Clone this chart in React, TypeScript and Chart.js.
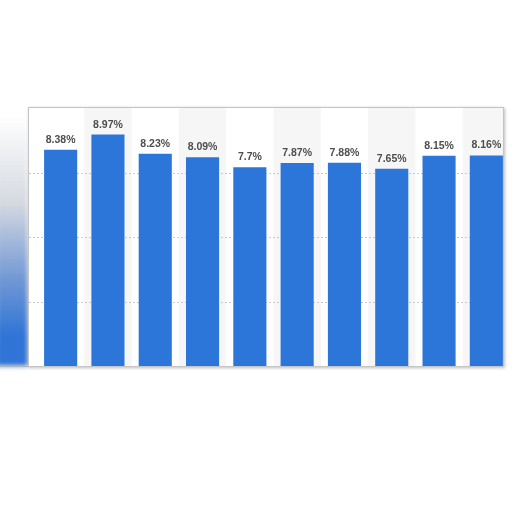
import React, { useRef, useEffect } from 'react';
import { Chart, registerables } from 'chart.js';

Chart.register(...registerables);

// Datos
const categories = ['1', '2', '3', '4', '5', '6', '7', '8', '9', '10'];
const values = [8.38, 8.97, 8.23, 8.09, 7.7, 7.87, 7.88, 7.65, 8.15, 8.16];
const valueLabels = ['8.38%', '8.97%', '8.23%', '8.09%', '7.7%', '7.87%', '7.88%', '7.65%', '8.15%', '8.16%'];
const gridValues = [2.5, 5, 7.5];

const BAR_BLUE = '#2c76d9';

// Bandas grises alternas y líneas de cuadrícula punteadas
const backgroundPlugin = {
  id: 'bandsAndGrid',
  beforeDatasetsDraw(chart: any) {
    const { ctx, chartArea, scales } = chart;
    const x = scales.x;
    const y = scales.y;
    const w = x.width / categories.length;
    ctx.save();
    ctx.fillStyle = '#f6f6f6';
    categories.forEach((_, i) => {
      if (i % 2 === 1) {
        const cx = x.getPixelForValue(i);
        ctx.fillRect(cx - w / 2, chartArea.top, w, chartArea.bottom - chartArea.top);
      }
    });
    ctx.strokeStyle = '#c9c9c9';
    ctx.lineWidth = 1;
    ctx.setLineDash([2, 2]);
    gridValues.forEach((v) => {
      const py = Math.round(y.getPixelForValue(v)) + 0.5;
      ctx.beginPath();
      ctx.moveTo(0, py);
      ctx.lineTo(chart.width, py);
      ctx.stroke();
    });
    ctx.restore();
  }
};

// Etiquetas de valor sobre cada barra
const labelsPlugin = {
  id: 'valueLabels',
  afterDatasetsDraw(chart: any) {
    const { ctx } = chart;
    const meta = chart.getDatasetMeta(0);
    ctx.save();
    ctx.font = 'bold 10.5px "Liberation Sans", Arial, sans-serif';
    ctx.fillStyle = '#4d4d4d';
    ctx.textAlign = 'center';
    ctx.textBaseline = 'alphabetic';
    meta.data.forEach((bar: any, i: number) => {
      ctx.fillText(valueLabels[i], bar.x, bar.y - 7);
    });
    ctx.restore();
  }
};

const BarChart: React.FC = () => {
  const canvasRef = useRef<HTMLCanvasElement>(null);

  useEffect(() => {
    if (!canvasRef.current) return;
    const chart = new Chart(canvasRef.current, {
      type: 'bar',
      data: {
        labels: categories,
        datasets: [{
          data: values,
          backgroundColor: BAR_BLUE,
          borderWidth: 0,
          barPercentage: 0.7,
          categoryPercentage: 1
        }]
      },
      options: {
        responsive: false,
        animation: false,
        maintainAspectRatio: false,
        layout: { padding: { left: 8, right: 0, top: 0, bottom: 0 } },
        plugins: {
          legend: { display: false },
          tooltip: { enabled: false }
        },
        scales: {
          x: { display: false },
          y: { display: false, min: 0, max: 10 }
        }
      },
      plugins: [backgroundPlugin, labelsPlugin]
    });
    return () => chart.destroy();
  }, []);

  return <canvas ref={canvasRef} width={481} height={258} style={{ position: 'absolute', left: 0, top: 0 }} />;
};

export default function App() {
  return (
    <div style={{ position: 'fixed', left: 0, top: 0, width: 512, height: 512, background: '#fff', overflow: 'hidden' }}>
      {/* franja borrosa a la izquierda */}
      <div style={{
        position: 'absolute', left: -4, top: 115, width: 32, height: 251,
        background: 'linear-gradient(to bottom, rgba(255,255,255,0) 0%, rgba(185,192,205,0.6) 35%, rgba(90,135,205,0.85) 65%, #2f74d6 88%)',
        filter: 'blur(2.5px)'
      }} />
      <div style={{ position: 'absolute', left: 0, top: 366, width: 30, height: 1, background: '#b5b5b5' }} />
      <div style={{
        position: 'absolute', left: 28, top: 107, width: 476, height: 260,
        boxSizing: 'border-box', border: '1px solid #c4c4c4',
        boxShadow: '1px 1px 3px rgba(0,0,0,0.25)', background: '#fff', overflow: 'hidden'
      }}>
        <BarChart />
      </div>
    </div>
  );
}
